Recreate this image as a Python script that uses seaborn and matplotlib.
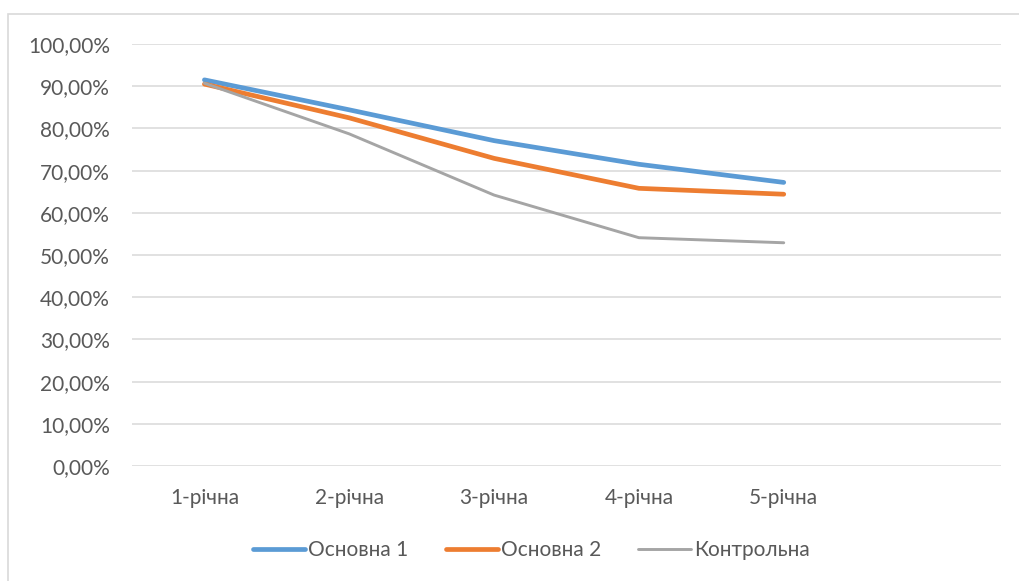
import numpy as np
import pandas as pd
import matplotlib
matplotlib.use("Agg")
import matplotlib.pyplot as plt
import seaborn as sns
from matplotlib.patches import Rectangle
from matplotlib.ticker import FuncFormatter, MultipleLocator

categories = ["1-річна", "2-річна", "3-річна", "4-річна", "5-річна"]
osnovna1 = [91.5, 84.4, 77.1, 71.5, 67.2]
osnovna2 = [90.5, 82.5, 72.9, 65.8, 64.4]
kontrolna = [90.7, 78.7, 64.2, 54.1, 52.9]
series_names = ["Основна 1", "Основна 2", "Контрольна"]
colors = ["#5B9BD5", "#ED7D31", "#A5A5A5"]
widths = [3.4, 3.4, 2.1]

sns.set_style("white")
plt.rcParams['font.family'] = ['Lato', 'DejaVu Sans']

df = pd.DataFrame({
    "pos": list(range(len(categories))) * 3,
    "value": osnovna1 + osnovna2 + kontrolna,
    "series": [s for s in series_names for _ in categories],
})

fig = plt.figure(figsize=(10.19, 5.81), dpi=100)
ax = fig.add_axes([132 / 1019, 1 - 466 / 581, (1001 - 132) / 1019, (466 - 44) / 581])

for name, col, lw in zip(series_names, colors, widths):
    sub = df[df["series"] == name]
    sns.lineplot(data=sub, x="pos", y="value", color=col, linewidth=lw,
                 label=name, ax=ax, solid_capstyle="round")

ax.set_xlim(-0.5, 5.5)
ax.set_ylim(0, 100)
ax.yaxis.set_major_locator(MultipleLocator(10))
ax.yaxis.set_major_formatter(FuncFormatter(lambda v, p: f"{v:.2f}%".replace(".", ",")))
ax.set_xticks(range(len(categories)))
ax.set_xticklabels(categories)
ax.grid(axis="y", color="#d9d9d9", linewidth=1.1)
ax.set_axisbelow(True)
for s in ["top", "right", "left", "bottom"]:
    ax.spines[s].set_visible(False)
ax.tick_params(axis="y", length=0, pad=16, labelsize=15, labelcolor="#595959")
ax.tick_params(axis="x", length=0, pad=16, labelsize=15, labelcolor="#595959")
ax.set_xlabel("")
ax.set_ylabel("")

ax.legend(loc="center", bbox_to_anchor=(531 / 1019, 1 - 550 / 581),
          bbox_transform=fig.transFigure, ncol=3, frameon=False,
          fontsize=15, handlelength=2.5, handletextpad=0.15, columnspacing=1.8,
          labelcolor="#595959")

fig.patches.append(Rectangle((8 / 1019, -0.1), 1.2, 1 - 14 / 581 + 0.1,
                             transform=fig.transFigure, fill=False,
                             edgecolor="#d9d9d9", linewidth=1.2))

fig.savefig("out.png", dpi=100)
